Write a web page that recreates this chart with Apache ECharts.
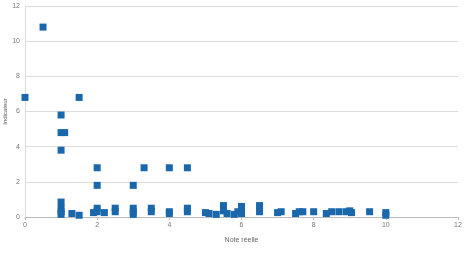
<!DOCTYPE html>
<html><head><meta charset="utf-8">
<script src="https://cdn.jsdelivr.net/npm/echarts@6/dist/echarts.min.js"></script>
<style>html,body{margin:0;padding:0;background:#fff}#c{width:468px;height:253px}</style>
</head><body><div id="c"></div>
<script>
// Note réelle (x) values
const noteReelle = [0, 0.5, 1, 1, 1.1, 1, 1.5,
  1, 1, 1, 1, 1.3, 1.5,
  2, 2, 1.9, 2, 2, 2.2,
  2.5, 2.5, 3, 3, 3, 3, 3.3, 3.5, 3.5,
  4, 4, 4, 4.5, 4.5, 4.5,
  5, 5.1, 5.3, 5.5, 5.5, 5.6, 5.8, 5.9, 6, 6, 6,
  6.5, 6.5, 7, 7.1, 7.5, 7.6, 7.7, 8, 8.35, 8.5,
  8.7, 8.9, 9, 9.05, 9.55, 10, 10];
// Indicateur (y) values
const indicateur = [6.8, 10.8, 5.8, 4.8, 4.8, 3.8, 6.8,
  0.85, 0.5, 0.3, 0.15, 0.2, 0.1,
  2.8, 1.8, 0.25, 0.5, 0.3, 0.25,
  0.5, 0.3, 1.8, 0.5, 0.3, 0.15, 2.8, 0.5, 0.3,
  2.8, 0.3, 0.2, 2.8, 0.5, 0.3,
  0.25, 0.2, 0.15, 0.65, 0.35, 0.2, 0.15, 0.3, 0.6, 0.3, 0.2,
  0.65, 0.3, 0.25, 0.3, 0.2, 0.3, 0.3, 0.3, 0.2, 0.3,
  0.3, 0.3, 0.35, 0.25, 0.3, 0.25, 0.1];
const xTicks = [0, 2, 4, 6, 8, 10, 12];
const yTicks = [0, 2, 4, 6, 8, 10, 12];

const pts = noteReelle.map((x, i) => [x, indicateur[i]]);
const chart = echarts.init(document.getElementById('c'));
const lbl = {color: '#777', fontSize: 7, fontFamily: 'Liberation Sans'};
chart.setOption({
  animation: false,
  grid: {left: 25, right: 10, top: 6, bottom: 36, containLabel: false, outerBoundsMode: 'none'},
  xAxis: {
    type: 'value', min: xTicks[0], max: xTicks[xTicks.length - 1], interval: 2,
    name: 'Note réelle', nameLocation: 'middle', nameGap: 20,
    nameTextStyle: {color: '#666', fontSize: 7, fontFamily: 'Liberation Sans'},
    axisLine: {show: true, lineStyle: {color: '#bbb', width: 1}},
    axisTick: {show: true, length: 3, lineStyle: {color: '#bbb'}},
    axisLabel: Object.assign({margin: 5}, lbl),
    splitLine: {show: false}
  },
  yAxis: {
    type: 'value', min: yTicks[0], max: yTicks[yTicks.length - 1], interval: 2,
    name: 'Indicateur', nameLocation: 'middle', nameGap: 17, nameRotate: 90,
    nameMoveOverlap: false,
    nameTextStyle: {color: '#555', fontSize: 6, fontFamily: 'Liberation Sans'},
    axisLine: {show: true, lineStyle: {color: '#ddd', width: 1}},
    axisTick: {show: false},
    axisLabel: Object.assign({margin: 5}, lbl),
    splitLine: {show: true, lineStyle: {color: '#ddd', width: 1}}
  },
  series: [{
    type: 'scatter', data: pts, symbol: 'rect', symbolSize: 7,
    itemStyle: {color: '#1a68ab', opacity: 1}
  }]
});
</script></body></html>
